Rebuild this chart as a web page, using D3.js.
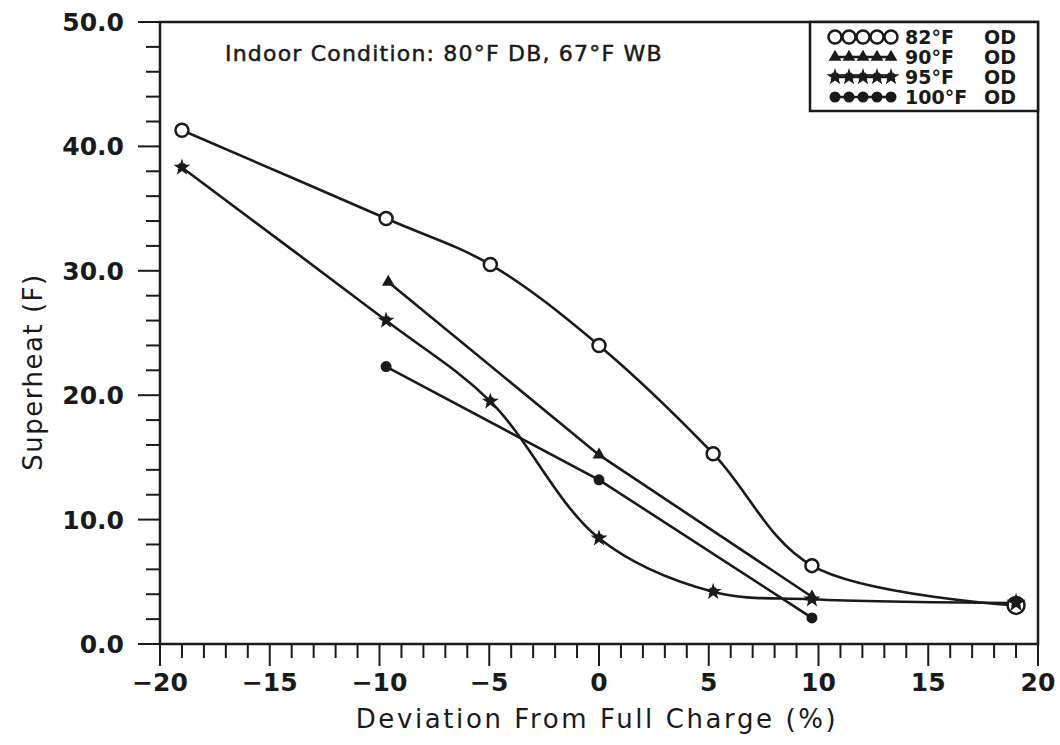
<!DOCTYPE html>
<html><head><meta charset="utf-8">
<script src="https://cdn.jsdelivr.net/npm/d3@7"></script>
<style>body{margin:0;background:#fff}svg{display:block}</style>
</head><body><svg id="c" width="1060" height="745"></svg>
<script>
// ---- data ----
const seriesNames = ["82°F", "90°F", "95°F", "100°F"];
const markerTypes = ["circle", "triangle", "star", "dot"];
const curveTypes = ["smooth", "linear", "smooth", "linear"];
const x82 = [-19, -9.7, -4.95, 0, 5.2, 9.7, 19];
const y82 = [41.3, 34.2, 30.5, 24.0, 15.3, 6.3, 3.1];
const x90 = [-9.6, 0, 9.7];
const y90 = [29.1, 15.2, 3.8];
const x95 = [-19, -9.7, -4.95, 0, 5.2, 9.7, 19];
const y95 = [38.3, 26.0, 19.5, 8.5, 4.2, 3.6, 3.3];
const x100 = [-9.7, 0, 9.7];
const y100 = [22.3, 13.2, 2.1];
const xTicks = [-20, -15, -10, -5, 0, 5, 10, 15, 20];
const yTicks = [0, 10, 20, 30, 40, 50];
const annotation = "Indoor Condition: 80°F DB, 67°F WB";
const xTitle = "Deviation From Full Charge (%)";
const yTitle = "Superheat (F)";

const svg = d3.select("#c");
const L = 160, R = 1038, T = 22, B = 644;
const x = d3.scaleLinear().domain([-20, 20]).range([L, R]);
const y = d3.scaleLinear().domain([0, 50]).range([B, T]);
const ink = "#1a1a1a";
const font = "'DejaVu Sans', sans-serif";

// frame
svg.append("rect").attr("x", L).attr("y", T).attr("width", R - L).attr("height", B - T)
  .attr("fill", "none").attr("stroke", ink).attr("stroke-width", 2.5);

// x ticks
const xMinor = d3.range(-20, 21, 1);
svg.append("g").selectAll("line").data(xMinor).join("line")
  .attr("x1", d => x(d)).attr("x2", d => x(d))
  .attr("y1", B).attr("y2", d => B + (d % 5 === 0 ? 22 : 14))
  .attr("stroke", ink).attr("stroke-width", 2);
svg.append("g").selectAll("text").data(xTicks).join("text")
  .attr("x", d => x(d)).attr("y", B + 47)
  .attr("text-anchor", "middle").attr("font-family", font).attr("font-size", 25)
  .attr("font-weight", "bold").attr("fill", ink)
  .text(d => d < 0 ? "\u2212" + Math.abs(d) : String(d));

// y ticks
const yMinor = d3.range(0, 51, 2);
svg.append("g").selectAll("line").data(yMinor).join("line")
  .attr("y1", d => y(d)).attr("y2", d => y(d))
  .attr("x1", L).attr("x2", d => L - (d % 10 === 0 ? 22 : 14))
  .attr("stroke", ink).attr("stroke-width", 2);
svg.append("g").selectAll("text").data(yTicks).join("text")
  .attr("x", L - 36).attr("y", d => y(d) + 9)
  .attr("text-anchor", "end").attr("font-family", font).attr("font-size", 25)
  .attr("font-weight", "bold").attr("fill", ink)
  .text(d => d.toFixed(1));

// axis titles
svg.append("text").attr("x", 597).attr("y", 728).attr("text-anchor", "middle")
  .attr("font-family", font).attr("font-size", 26).attr("letter-spacing", 2.6).attr("fill", ink).text(xTitle);
svg.append("text").attr("transform", "translate(42,372) rotate(-90)").attr("text-anchor", "middle")
  .attr("font-family", font).attr("font-size", 26).attr("letter-spacing", 1.5).attr("fill", ink).text(yTitle);

// annotation
svg.append("text").attr("x", 225).attr("y", 61).attr("font-family", font).attr("font-size", 22)
  .attr("letter-spacing", 1.2).attr("fill", ink).attr("stroke", ink).attr("stroke-width", 0.5)
  .text(annotation);

// markers
function drawMarker(g, type, cx, cy, big) {
  const s = big ? 1.3 : 1;
  if (type === "circle") {
    g.append("circle").attr("cx", cx).attr("cy", cy).attr("r", 6.5 * s)
      .attr("fill", "#fff").attr("stroke", ink).attr("stroke-width", 2.5);
  } else if (type === "dot") {
    g.append("circle").attr("cx", cx).attr("cy", cy).attr("r", 5.5 * s).attr("fill", ink);
  } else if (type === "triangle") {
    g.append("path").attr("d", d3.symbol(d3.symbolTriangle, 70 * s)())
      .attr("transform", `translate(${cx},${cy})`).attr("fill", ink);
  } else if (type === "star") {
    g.append("path").attr("d", d3.symbol(d3.symbolStar, 90 * s)())
      .attr("transform", `translate(${cx},${cy})`).attr("fill", ink);
    g.append("path").attr("d", d3.symbol(d3.symbolCross, 50 * s)())
      .attr("transform", `translate(${cx},${cy}) rotate(45)`).attr("fill", ink);
  }
}

const allX = [x82, x90, x95, x100];
const allY = [y82, y90, y95, y100];
const plot = svg.append("g");
allX.forEach((xs, i) => {
  const pts = xs.map((v, j) => [v, allY[i][j]]);
  const line = d3.line().x(d => x(d[0])).y(d => y(d[1]))
    .curve(curveTypes[i] === "smooth" ? d3.curveCatmullRom.alpha(0.5) : d3.curveLinear);
  plot.append("path").datum(pts).attr("d", line).attr("fill", "none")
    .attr("stroke", ink).attr("stroke-width", 2.6);
});
allX.forEach((xs, i) => {
  const g = plot.append("g");
  xs.forEach((v, j) => drawMarker(g, markerTypes[i], x(v), y(allY[i][j]), v === 19));
});

// legend
const lg = svg.append("g");
const lgL = 810, lgB = 111;
lg.append("rect").attr("x", lgL).attr("y", T).attr("width", R - lgL).attr("height", lgB - T)
  .attr("fill", "#fff").attr("stroke", ink).attr("stroke-width", 2.5);
seriesNames.forEach((name, i) => {
  const ry = 37 + i * 20;
  const xs = d3.range(5).map(k => 835 + k * 14);
  lg.append("line").attr("x1", xs[0]).attr("x2", xs[4]).attr("y1", ry).attr("y2", ry)
    .attr("stroke", ink).attr("stroke-width", 2.5);
  xs.forEach(px => drawMarker(lg, markerTypes[i], px, ry, false));
  lg.append("text").attr("x", 905).attr("y", ry + 7).attr("font-family", font).attr("font-size", 19)
    .attr("font-weight", "bold").attr("fill", ink).text(name);
  lg.append("text").attr("x", 984).attr("y", ry + 7).attr("font-family", font).attr("font-size", 19)
    .attr("font-weight", "bold").attr("fill", ink).text("OD");
});
</script></body></html>
